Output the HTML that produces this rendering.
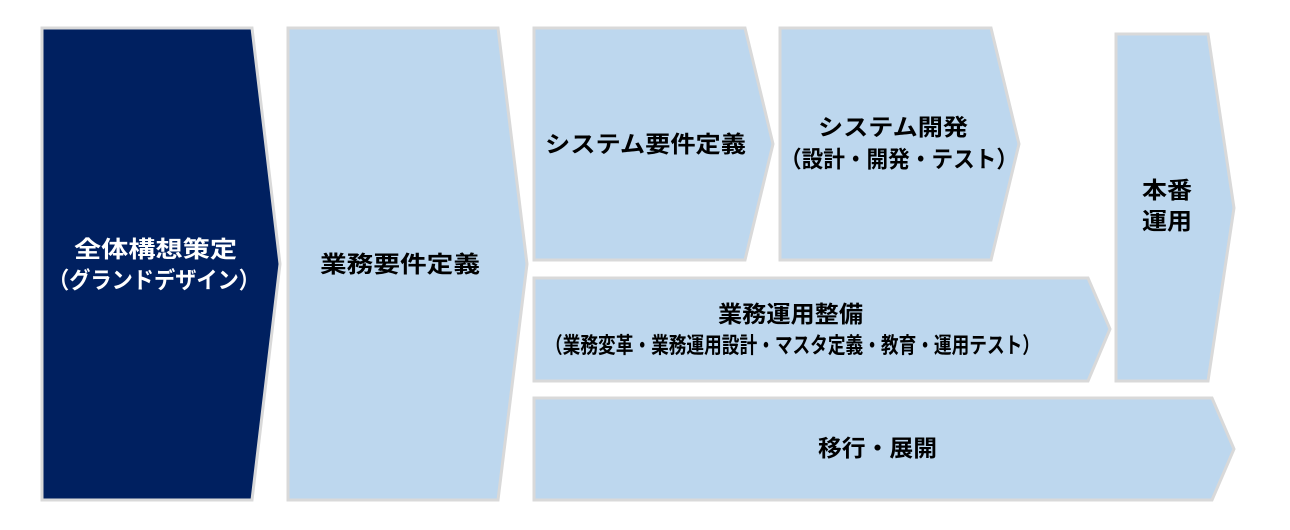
<!DOCTYPE html>
<html><head><meta charset="utf-8"><style>
html,body{margin:0;padding:0;background:#fff;width:1290px;height:530px;overflow:hidden}
svg text{font-family:"Liberation Sans","Noto Sans CJK JP",sans-serif;font-weight:bold}
</style></head><body>
<svg width="1290" height="530" xmlns="http://www.w3.org/2000/svg">
<g stroke="#d9d9d9" stroke-width="3" stroke-linejoin="miter">
<polygon points="42,28 252,28 280,264 252,500 42,500" fill="#002060"/>
<polygon points="288,28 498,28 527,264 498,500 288,500" fill="#bdd7ee"/>
<polygon points="534,28 745,28 773,144 745,260 534,260" fill="#bdd7ee"/>
<polygon points="780,28 991,28 1019,144 991,260 780,260" fill="#bdd7ee"/>
<polygon points="1116,34 1208,34 1234,208 1208,381 1116,381" fill="#bdd7ee"/>
<polygon points="534,278 1088,278 1110,329 1088,381 534,381" fill="#bdd7ee"/>
<polygon points="534,398 1212,398 1234,449 1212,500 534,500" fill="#bdd7ee"/>
</g>
<g font-size="23" fill="#000">
<text x="74" y="257" fill="#fff" textLength="163" lengthAdjust="spacingAndGlyphs">全体構想策定</text>
<text x="48" y="288" fill="#fff" textLength="212" lengthAdjust="spacingAndGlyphs">（グランドデザイン）</text>
<text x="320" y="272" textLength="160" lengthAdjust="spacingAndGlyphs">業務要件定義</text>
<text x="545" y="152" textLength="201" lengthAdjust="spacingAndGlyphs">システム要件定義</text>
<text x="818" y="135" textLength="150" lengthAdjust="spacingAndGlyphs">システム開発</text>
<text x="780" y="167" textLength="238" lengthAdjust="spacingAndGlyphs">（設計・開発・テスト）</text>
<text x="1142" y="198" textLength="50" lengthAdjust="spacingAndGlyphs">本番</text>
<text x="1142" y="229" textLength="50" lengthAdjust="spacingAndGlyphs">運用</text>
<text x="718" y="322" textLength="145" lengthAdjust="spacingAndGlyphs">業務運用整備</text>
<text x="545" y="353" font-size="22" textLength="495" lengthAdjust="spacingAndGlyphs">（業務変革・業務運用設計・マスタ定義・教育・運用テスト）</text>
<text x="818" y="456" textLength="119" lengthAdjust="spacingAndGlyphs">移行・展開</text>
</g>
</svg>
</body></html>
